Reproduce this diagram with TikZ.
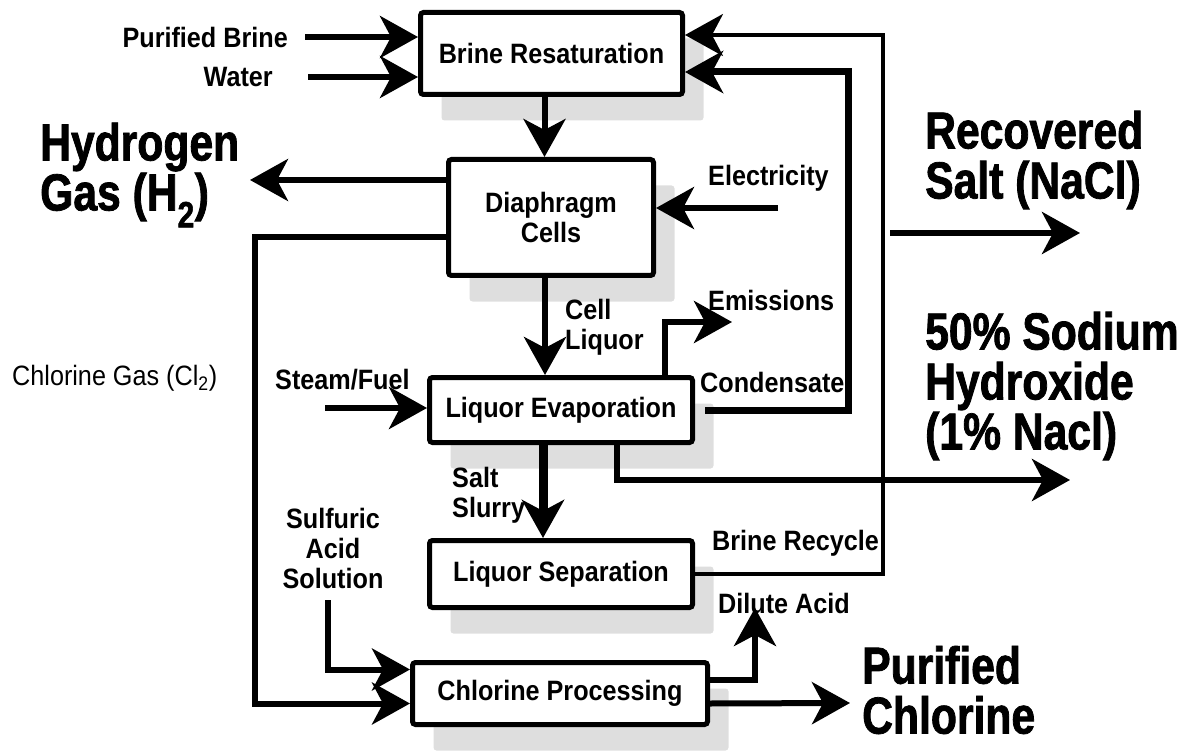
\documentclass[tikz,border=0pt]{standalone}
\usepackage{fontspec}
\setmainfont{Liberation Sans}
\newfontfamily\labfont[FakeStretch=0.9]{Liberation Sans}
\newfontfamily\headfont[FakeStretch=0.82,FakeBold=1.5]{Liberation Sans Bold}
\usetikzlibrary{arrows.meta,positioning,shadows}
\definecolor{shadowgray}{RGB}{222,222,222}
\newcommand\lblfont{\labfont\bfseries\fontsize{28}{30}\selectfont}
\newcommand\thinfont{\labfont\fontsize{28}{30}\selectfont}
\newcommand\headsize{\headfont\fontsize{52}{50}\selectfont}
\tikzset{
  procbox/.style={rectangle,rounded corners=3pt,draw=black,line width=5pt,fill=white,
    align=center,font=\lblfont,
    drop shadow={shadow xshift=21pt,shadow yshift=-26pt,fill=shadowgray,opacity=1}},
  lab/.style={inner sep=0pt,font=\lblfont},
  thinlab/.style={inner sep=0pt,font=\thinfont},
  headlab/.style={inner sep=0pt,align=left,font=\headsize},
  flowarr/.style={-{Stealth[length=38pt,width=42pt,inset=11pt]},line width=6pt},
  thickarr/.style={flowarr,line width=7pt},
  thinarr/.style={flowarr,line width=3.5pt},
  slurryarr/.style={flowarr,line width=9pt}
}
\begin{document}
\begin{tikzpicture}[x=1pt,y=-1pt]
  \useasboundingbox (0,0) rectangle (1180,751);

  % process boxes
  \node[procbox,minimum width=262pt,minimum height=82pt] (brine) at (551.5,53.5) {Brine Resaturation};
  \node[procbox,minimum width=205pt,minimum height=116pt] (cells) at (551,217.5) {Diaphragm\\Cells};
  \node[procbox,minimum width=263pt,minimum height=65pt] (evap) at (561,410) {Liquor Evaporation};
  \node[procbox,minimum width=263pt,minimum height=67pt] (sep) at (561,574) {Liquor Separation};
  \node[procbox,minimum width=295pt,minimum height=62pt] (chlor) at (560,693.5) {Chlorine Processing};

  % stream labels
  \node[lab,anchor=east] (purbrine) at (288,37) {Purified Brine};
  \node[lab,anchor=east] (water) at (273,77) {Water};
  \node[headlab,anchor=west] (hydrogen) at (40,175) {Hydrogen\\Gas (H\textsubscript{2})};
  \node[lab,anchor=west] (elec) at (708,178) {Electricity};
  \node[headlab,anchor=west] (salt) at (925,160) {Recovered\\Salt (NaCl)};
  \node[lab,align=left,anchor=west] (cellliq) at (565,327) {Cell\\Liquor};
  \node[lab,anchor=west] (emis) at (708,300) {Emissions};
  \node[headlab,anchor=west] (soda) at (925,386) {50\% Sodium\\Hydroxide\\(1\% Nacl)};
  \node[thinlab,anchor=west] (clgas) at (12,378) {Chlorine Gas (Cl\textsubscript{2})};
  \node[lab,anchor=west] (steam) at (275,380) {Steam/Fuel};
  \node[lab,anchor=west] (cond) at (700,382) {Condensate};
  \node[lab,align=left,anchor=west] (slurry) at (452,495) {Salt\\Slurry};
  \node[lab,align=center] (sulf) at (333,548) {Sulfuric\\Acid\\Solution};
  \node[lab,anchor=west] (recyc) at (712,543) {Brine Recycle};
  \node[lab,anchor=west] (dilute) at (718,603) {Dilute Acid};
  \node[headlab,anchor=west] (purcl) at (862,690) {Purified\\Chlorine};

  % free ends and bends
  \coordinate (h2end) at (250,180);
  \coordinate (clbend) at (255,237);
  \coordinate (sulf0) at (328,600);
  \coordinate (elec0) at (778,208);
  \coordinate (emis0) at (732,322);
  \coordinate (condtop) at (848,72);
  \coordinate (recyctop) at (883,35);
  \coordinate (salt0) at (890,233);
  \coordinate (salt1) at (1080,233);
  \coordinate (soda1) at (1070,480);
  \coordinate (steam0) at (325,408);
  \coordinate (dil1) at (755,608);
  \coordinate (pcl1) at (850,703);

  % connectors
  \draw[flowarr,shorten <=17pt] (purbrine.east) -- (purbrine.east -| brine.west);
  \draw[flowarr,shorten <=35pt] (water.east) -- (water.east -| brine.west);
  \draw[flowarr] ([xshift=-7pt]brine.south) -- ([xshift=-7pt]brine.south |- cells.north);
  \draw[flowarr] (cells.west |- h2end) -- (h2end);
  \draw[flowarr] (cells.west |- clbend) -- (clbend) |- ([yshift=-10pt]chlor.west);
  \draw[flowarr] (elec0) -- (elec0 -| cells.east);
  \draw[flowarr] (cells.south -| 545,0) -- (evap.north -| 545,0);
  \draw[flowarr] (evap.north -| 665,0) |- (emis0);
  \draw[thickarr] ([xshift=10pt]evap.east) -| (condtop) -- (condtop -| brine.east);
  \draw[thinarr] (sep.east) -| (recyctop) -- (recyctop -| brine.east);
  \draw[flowarr] (salt0) -- (salt1);
  \draw[flowarr] (evap.south -| 617,0) |- (soda1);
  \draw[flowarr] (steam0) -- (steam0 -| evap.west);
  \draw[slurryarr] (evap.south -| 543,0) -- (sep.north -| 543,0);
  \draw[flowarr] (sulf0) |- ([yshift=24pt]chlor.west);
  \draw[flowarr] ([yshift=14pt]chlor.east) -| (dil1);
  \draw[flowarr] ([yshift=-10pt]chlor.east) -- (pcl1);
\end{tikzpicture}
\end{document}
